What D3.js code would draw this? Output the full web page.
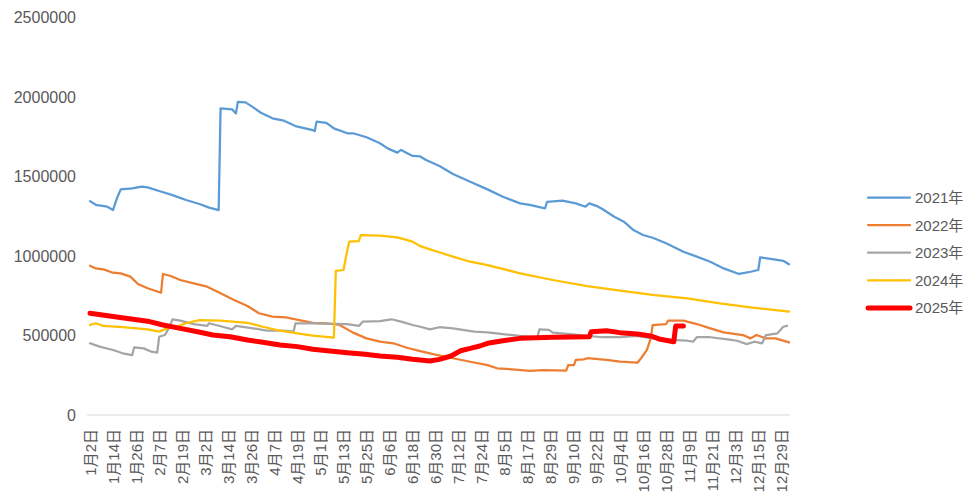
<!DOCTYPE html>
<html>
<head>
<meta charset="utf-8">
<script src="https://cdn.jsdelivr.net/npm/d3@7/dist/d3.min.js"></script>
<style>
  body { margin: 0; background: #fff; }
  text { fill: #595959; font-family: "Liberation Sans", "Noto Sans CJK SC", sans-serif; }
</style>
</head>
<body>
<div id="chart"></div>
<script>
// x labels, one every 12 daily categories
var tickLabels = ["1月2日","1月14日","1月26日","2月7日","2月19日","3月2日","3月14日","3月26日","4月7日","4月19日",
    "5月1日","5月13日","5月25日","6月6日","6月18日","6月30日","7月12日","7月24日","8月5日","8月17日",
    "8月29日","9月10日","9月22日","10月4日","10月16日","10月28日","11月9日","11月21日","12月3日","12月15日","12月29日"];
var yTicks = [0, 500000, 1000000, 1500000, 2000000, 2500000];
var years = ["2021年","2022年","2023年","2024年","2025年"];

// [day index from 1月2日, value]
var s2021 = [[0,1345000],[3,1322000],[9,1310000],[12,1289000],[14,1363000],[16,1419000],[22,1425000],[27,1436000],[30,1432000],
    [36,1409000],[43,1383000],[50,1352000],[57,1327000],[62,1304000],[67,1289000],[68,1929000],[74,1922000],[76,1897000],
    [77,1970000],[81,1966000],[85,1935000],[89,1901000],[95,1866000],[101,1851000],[107,1817000],[116,1792000],[117,1785000],
    [118,1845000],[123,1838000],[127,1803000],[134,1772000],[137,1772000],[144,1747000],[151,1709000],[155,1677000],
    [160,1650000],[162,1667000],[168,1629000],[172,1626000],[175,1604000],[182,1566000],[189,1516000],[198,1467000],
    [207,1419000],[215,1373000],[224,1331000],[229,1321000],[237,1300000],[238,1341000],[246,1348000],[253,1331000],
    [258,1310000],[260,1331000],[264,1314000],[267,1294000],[273,1247000],[278,1216000],[283,1163000],[288,1132000],
    [293,1115000],[300,1080000],[309,1027000],[316,996000],[323,964000],[330,922000],[338,887000],[344,901000],
    [348,912000],[349,992000],[356,979000],[361,970000],[364,948000]];
var s2022 = [[0,939000],[3,922000],[7,916000],[12,895000],[16,891000],[21,870000],[25,824000],[30,797000],[37,769000],
    [38,887000],[42,874000],[47,849000],[54,828000],[61,807000],[68,765000],[75,723000],[82,686000],[88,640000],
    [95,619000],[102,614000],[109,597000],[116,580000],[123,577000],[130,566000],[137,518000],[144,482000],[151,461000],
    [158,451000],[165,423000],[172,402000],[177,388000],[181,377000],[189,357000],[198,335000],[207,314000],[212,294000],
    [220,287000],[229,277000],[236,283000],[248,279000],[249,314000],[252,314000],[253,346000],[257,350000],[259,357000],
    [269,346000],[276,335000],[285,329000],[287,357000],[290,409000],[292,482000],[293,566000],[300,572000],[301,593000],
    [309,593000],[316,572000],[323,545000],[330,520000],[340,503000],[344,482000],[347,503000],[352,482000],[357,482000],
    [364,457000]];
var s2023 = [[0,451000],[5,430000],[12,409000],[17,388000],[22,377000],[23,426000],[28,419000],[32,398000],[35,392000],
    [36,492000],[39,503000],[41,545000],[43,602000],[47,593000],[54,572000],[61,560000],[62,577000],[69,555000],
    [74,539000],[76,560000],[85,545000],[92,530000],[101,530000],[106,524000],[107,577000],[116,577000],[134,572000],
    [140,560000],[142,587000],[151,591000],[157,602000],[162,587000],[168,566000],[172,555000],[177,539000],[182,552000],
    [189,545000],[200,524000],[207,520000],[215,509000],[224,497000],[233,489000],[234,539000],[239,535000],[241,518000],
    [250,509000],[259,497000],[267,489000],[276,489000],[285,497000],[293,482000],[302,472000],[311,467000],[314,461000],
    [316,489000],[323,489000],[332,476000],[337,467000],[342,446000],[346,461000],[350,451000],[352,503000],[358,514000],
    [361,555000],[363,560000]];
var s2024 = [[0,566000],[3,577000],[7,560000],[17,552000],[30,539000],[36,524000],[40,545000],[45,555000],[50,577000],
    [57,597000],[68,593000],[82,580000],[90,555000],[99,530000],[108,514000],[116,499000],[127,486000],[128,906000],
    [132,912000],[134,1038000],[135,1090000],[140,1094000],[141,1132000],[151,1128000],[160,1117000],[168,1090000],
    [172,1062000],[177,1042000],[181,1027000],[189,996000],[198,964000],[207,943000],[224,891000],[241,849000],
    [259,811000],[276,782000],[293,755000],[311,734000],[328,702000],[345,675000],[364,650000]];
var s2025 = [[0,640000],[12,619000],[30,590000],[38,566000],[47,545000],[56,524000],[64,503000],[73,492000],[82,472000],
    [90,457000],[99,440000],[108,430000],[116,413000],[125,402000],[134,392000],[142,384000],[151,371000],[160,363000],
    [168,350000],[172,346000],[177,340000],[182,350000],[188,371000],[193,404000],[198,419000],[203,434000],[207,451000],
    [215,467000],[224,482000],[241,489000],[260,492000],[261,524000],[269,530000],[276,518000],[285,509000],[292,497000],
    [297,476000],[304,461000],[305,560000],[309,560000]];

var series = [s2021, s2022, s2023, s2024, s2025];
var colors = ["#5B9BD5", "#ED7D31", "#A5A5A5", "#FFC000", "#FF0000"];
var widths = [2.25, 2.25, 2.25, 2.25, 5];

var width = 972, height = 497;

var xScale = d3.scaleLinear().domain([0, 364]).range([90, 789]);
var yScale = d3.scaleLinear().domain([0, 2500000]).range([415, 17.5]);

var svg = d3.select("#chart").append("svg")
    .attr("width", width)
    .attr("height", height);

// y labels
svg.append("g").selectAll("text")
    .data(yTicks)
    .enter().append("text")
    .attr("x", 76)
    .attr("y", d => yScale(d))
    .attr("text-anchor", "end")
    .attr("dominant-baseline", "central")
    .style("font-size", "16px")
    .text(d => d);

// category axis line
svg.append("line")
    .attr("x1", xScale(-1.5)).attr("x2", xScale(364.5))
    .attr("y1", yScale(0)).attr("y2", yScale(0))
    .attr("stroke", "#d9d9d9").attr("stroke-width", 1);

svg.append("g").selectAll("text")
    .data(tickLabels)
    .enter().append("text")
    .attr("transform", (d, i) => "translate(" + xScale(i * 12) + ",429) rotate(-90)")
    .attr("text-anchor", "end")
    .attr("dominant-baseline", "central")
    .style("font-size", "15px")
    .text(d => d);

var line = d3.line()
    .x(d => xScale(d[0]))
    .y(d => yScale(d[1]));

series.forEach((s, i) => {
    svg.append("path")
        .datum(s)
        .attr("d", line)
        .attr("fill", "none")
        .attr("stroke", colors[i])
        .attr("stroke-width", widths[i])
        .attr("stroke-linejoin", "round")
        .attr("stroke-linecap", "round");
});

// legend
var legend = svg.append("g").selectAll("g")
    .data(years)
    .enter().append("g")
    .attr("transform", (d, i) => "translate(868," + (197.5 + i * 27.6) + ")");

legend.append("line")
    .attr("x1", 0).attr("x2", 42)
    .attr("stroke", (d, i) => colors[i])
    .attr("stroke-width", (d, i) => widths[i])
    .attr("stroke-linecap", "round");

legend.append("text")
    .attr("x", 47)
    .attr("dominant-baseline", "central")
    .style("font-size", "15px")
    .text(d => d);
</script>
</body>
</html>
